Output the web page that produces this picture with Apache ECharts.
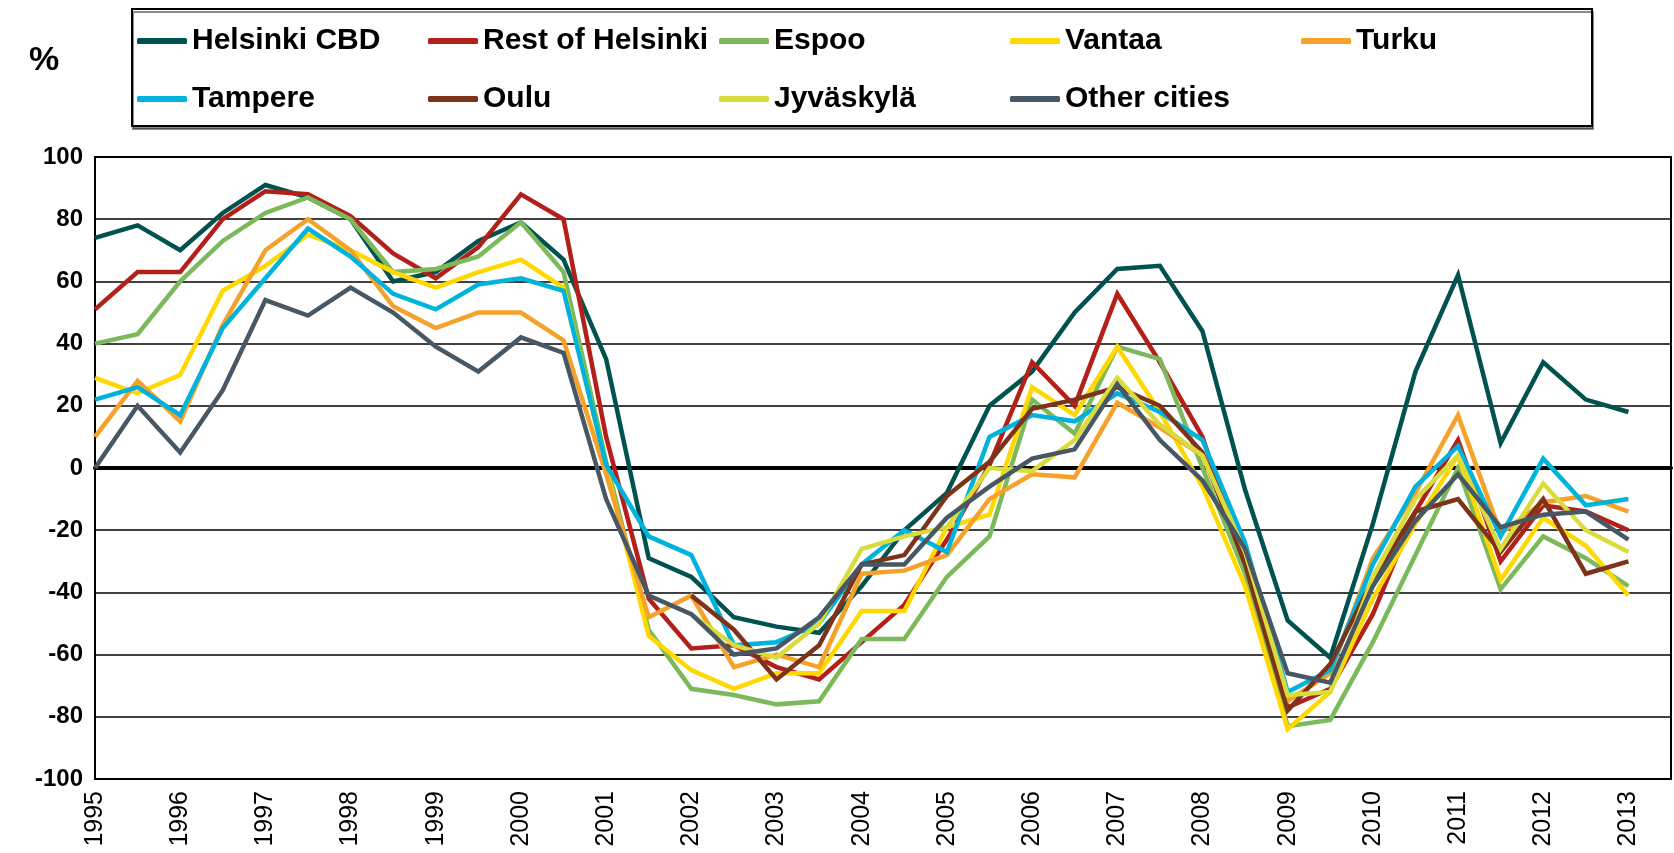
<!DOCTYPE html>
<html>
<head>
<meta charset="utf-8">
<title>Office rent change by city</title>
<script src="https://cdn.jsdelivr.net/npm/echarts@6.0.0/dist/echarts.min.js"></script>
<style>
  html, body { margin: 0; padding: 0; background: #fff; }
  #chart-container { width: 1674px; height: 853px; }
</style>
</head>
<body>
<div id="chart-container"></div>
<script>
// half-year periods, last slot is empty (Excel leaves room after 2013)
var periods = ['1995', '1995.5', '1996', '1996.5', '1997', '1997.5', '1998', '1998.5',
  '1999', '1999.5', '2000', '2000.5', '2001', '2001.5', '2002', '2002.5', '2003', '2003.5',
  '2004', '2004.5', '2005', '2005.5', '2006', '2006.5', '2007', '2007.5', '2008', '2008.5',
  '2009', '2009.5', '2010', '2010.5', '2011', '2011.5', '2012', '2012.5', '2013', '2013.5'];

var yTicks = [-100, -80, -60, -40, -20, 0, 20, 40, 60, 80, 100];

var helsinkiCBD = [74, 78, 70, 82, 91, 87, 80, 60, 63, 73, 79, 67, 35, -29, -35, -48, -51, -53, -38, -20,
  -8, 20, 31, 50, 64, 65, 44, -7, -49, -61, -18, 31, 62, 8, 34, 22, 18];
var restOfHelsinki = [51, 63, 63, 80, 89, 88, 81, 69, 61, 71, 88, 80, 10, -42, -58, -57, -64, -68, -56, -44,
  -23, 1, 34, 20, 56, 34, 10, -31, -77, -71, -47, -14, 9, -30, -12, -14, -20];
var espoo = [40, 43, 60, 73, 82, 87, 80, 63, 64, 68, 79, 63, 2, -52, -71, -73, -76, -75, -55, -55,
  -35, -22, 22, 11, 39, 35, 0, -34, -83, -81, -56, -28, 0, -39, -22, -29, -38];
var vantaa = [29, 24, 30, 57, 65, 75, 70, 63, 58, 63, 67, 58, 0, -54, -65, -71, -66, -66, -46, -46,
  -19, -15, 26, 17, 39, 18, -6, -38, -84, -72, -42, -18, 4, -36, -16, -25, -41];
var turku = [10, 28, 15, 46, 70, 80, 70, 52, 45, 50, 50, 41, -2, -48, -41, -64, -60, -64, -34, -33,
  -28, -10, -2, -3, 21, 13, 4, -29, -75, -66, -29, -8, 17, -21, -11, -9, -14];
var tampere = [22, 26, 17, 45, 61, 77, 68, 56, 51, 59, 61, 57, 1, -22, -28, -57, -56, -50, -31, -20,
  -27, 10, 17, 15, 24, 18, 9, -24, -72, -65, -31, -6, 7, -22, 3, -12, -10];
var oulu = [null, null, null, null, null, null, null, null, null, null, null, null, null, null,
  -41, -52, -68, -57, -31, -28, -9, 2, 19, 22, 26, 20, 5, -31, -78, -63, -36, -14, -10, -27, -10, -34, -30];
var jyvaskyla = [null, null, null, null, null, null, null, null, null, null, null, null, null, null,
  -47, -57, -61, -50, -26, -22, -19, 0, -1, 9, 29, 14, 4, -27, -73, -72, -35, -10, 4, -26, -5, -20, -27];
var otherCities = [0, 20, 5, 25, 54, 49, 58, 50, 39, 31, 42, 37, -10, -41, -47, -60, -58, -48, -31, -31,
  -16, -6, 3, 6, 27, 9, -4, -26, -66, -69, -38, -17, -2, -19, -15, -14, -23];

var names = ['Helsinki CBD', 'Rest of Helsinki', 'Espoo', 'Vantaa', 'Turku',
  'Tampere', 'Oulu', 'Jyväskylä', 'Other cities'];
var values = [helsinkiCBD, restOfHelsinki, espoo, vantaa, turku, tampere, oulu, jyvaskyla, otherCities];
var colors = ['#00524f', '#b3201a', '#7cb95a', '#ffd800', '#f5a12a',
  '#00b3dd', '#7c3319', '#d9dc3c', '#475864'];

var FONT = '"Liberation Sans", Arial, sans-serif';

var dom = document.getElementById('chart-container');
var myChart = echarts.init(dom, null, { renderer: 'canvas' });

var series = names.map(function (n, i) {
  return {
    name: n,
    type: 'line',
    data: values[i],
    showSymbol: false,
    symbol: 'none',
    connectNulls: false,
    lineStyle: { width: 4.5, color: colors[i], join: 'miter' },
    itemStyle: { color: colors[i] },
    animation: false
  };
});

function legendRow(data, top) {
  return {
    data: data,
    left: 137,
    top: top,
    orient: 'horizontal',
    padding: 0,
    itemGap: 0,
    itemWidth: 50,
    itemHeight: 6,
    icon: 'roundRect',
    selectedMode: false,
    textStyle: {
      fontFamily: FONT,
      fontSize: 30,
      fontWeight: 'bold',
      color: '#000',
      width: 236,
      lineHeight: 34
    }
  };
}

var option = {
  backgroundColor: '#fff',
  color: colors,
  animation: false,
  grid: {
    left: 95,
    right: 3,
    top: 157,
    bottom: 74,
    show: true,
    borderColor: '#000',
    borderWidth: 2
  },
  legend: [
    legendRow(names.slice(0, 5), 24),
    legendRow(names.slice(5), 82)
  ],
  graphic: [
    {
      type: 'rect',
      z: 0,
      shape: { x: 132, y: 9, width: 1460, height: 117 },
      style: {
        fill: '#fff',
        stroke: '#000',
        lineWidth: 2,
        shadowColor: 'rgba(0,0,0,0.45)',
        shadowOffsetX: 1,
        shadowOffsetY: 3,
        shadowBlur: 0
      }
    },
    {
      type: 'text',
      left: 29,
      top: 44,
      style: {
        text: '%',
        font: 'bold 34px ' + FONT,
        fill: '#000'
      }
    }
  ],
  xAxis: [
    {
      type: 'category',
      data: periods,
      boundaryGap: false,
      position: 'bottom',
      axisLine: { onZero: false, lineStyle: { color: '#000', width: 2 } },
      axisTick: { show: false },
      splitLine: { show: false },
      axisLabel: {
        interval: 0,
        rotate: 90,
        margin: 12,
        fontFamily: FONT,
        fontSize: 25,
        color: '#000',
        formatter: function (v) {
          return v.indexOf('.') >= 0 ? '' : v;
        }
      }
    },
    {
      // thick zero line
      type: 'category',
      data: periods,
      boundaryGap: false,
      position: 'bottom',
      axisLine: { onZero: true, lineStyle: { color: '#000', width: 4 } },
      axisTick: { show: false },
      axisLabel: { show: false },
      splitLine: { show: false }
    }
  ],
  yAxis: {
    type: 'value',
    min: yTicks[0],
    max: yTicks[yTicks.length - 1],
    interval: 20,
    axisLine: { show: true, lineStyle: { color: '#000', width: 2 } },
    axisTick: { show: false },
    splitLine: { show: true, lineStyle: { color: '#000', width: 1.5 } },
    axisLabel: {
      margin: 12,
      fontFamily: FONT,
      fontSize: 24,
      fontWeight: 'bold',
      color: '#000'
    }
  },
  series: series
};

if (option && typeof option === 'object') {
  myChart.setOption(option);
}

window.addEventListener('resize', myChart.resize);
</script>
</body>
</html>
